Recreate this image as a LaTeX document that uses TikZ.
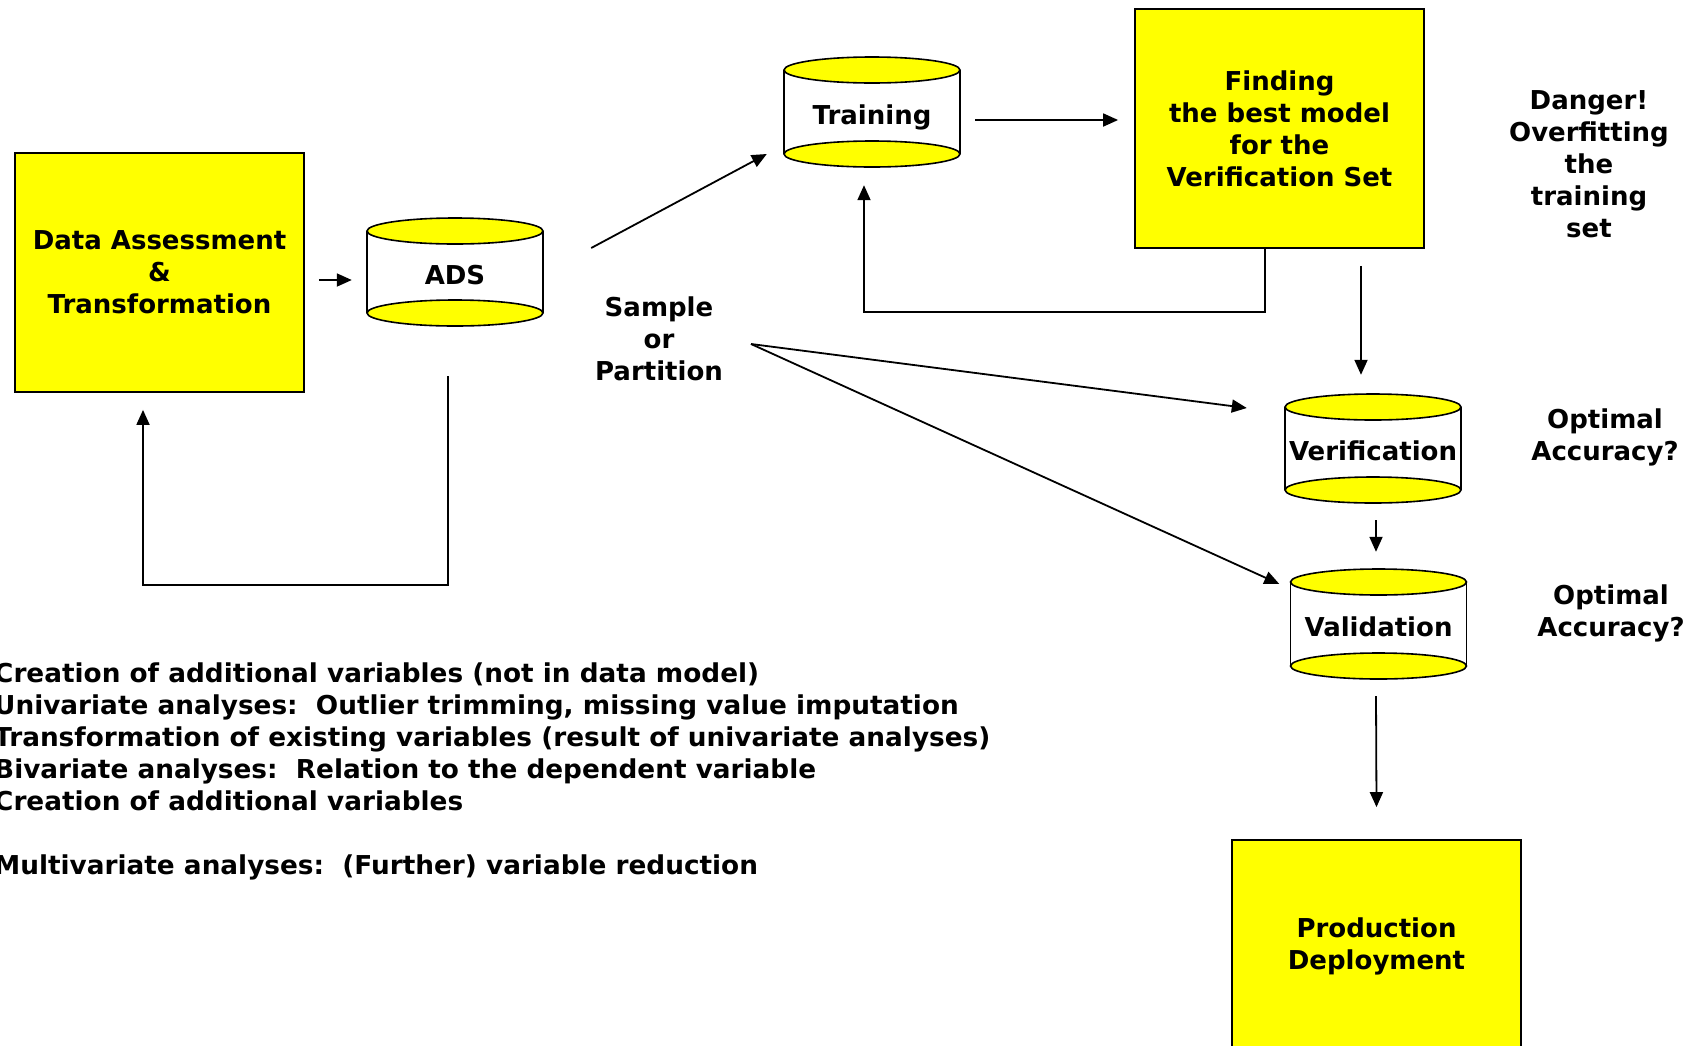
\documentclass[tikz,border=0pt]{standalone}
\usepackage{fontspec}
\setmainfont{DejaVu Sans}
\usetikzlibrary{arrows.meta,calc}

\definecolor{boxyellow}{RGB}{255,255,0}

\tikzset{
  lbl/.style={font=\fontsize{26}{32}\selectfont\bfseries, align=center, inner sep=0pt},
  yellowbox/.style={lbl, draw=black, line width=1.8pt, fill=boxyellow,
                    minimum width=289pt, minimum height=239pt},
  link/.style={line width=1.8pt},
  arr/.style={link, -{Triangle[length=15pt,width=13pt]}},
  drumline/.style={draw=black, line width=1.6pt},
}

% data store drawn as a drum: name, centre x, top rim y, bottom rim y, label
\newcommand\datadrum[5]{%
  \fill[white] (#2-88,#3) rectangle (#2+88,#4);
  \draw[drumline] (#2-88,#3) -- (#2-88,#4) (#2+88,#3) -- (#2+88,#4);
  \draw[drumline, fill=boxyellow] (#2,#4) ellipse [x radius=88, y radius=13];
  \draw[drumline, fill=boxyellow] (#2,#3) ellipse [x radius=88, y radius=13];
  \node[lbl, text height=24pt, text depth=0pt, minimum width=176pt,
        minimum height={#4-#3+26}] (#1) at (#2,{(#3+#4)/2}) {#5};
}

\begin{document}
\begin{tikzpicture}[x=1pt,y=-1pt]
\useasboundingbox (0,0) rectangle (1700,1045);

% boxes and data stores
\node[yellowbox] (da) at (159.5,272.5) {Data Assessment\\\&\\Transformation};
\datadrum{ads}{455}{231}{313}{ADS}
\datadrum{training}{872}{70}{154}{Training}
\node[yellowbox] (finding) at (1279.5,128.5) {Finding\\the best model\\for the\\Verification Set};
\datadrum{verification}{1373}{407}{490}{Verification}
\datadrum{validation}{1378.5}{582}{666}{Validation}
\node[yellowbox, minimum height=212pt] (prod) at (1376.5,946) {Production\\Deployment};

% free labels
\node[lbl] (sample) at (659,339) {Sample\\or\\Partition};
\node[lbl] (danger) at (1589,164) {Danger!\\Overfitting\\the\\training\\set};
\node[lbl] (acc1) at (1605,437) {Optimal\\Accuracy?};
\node[lbl] (acc2) at (1611,613) {Optimal\\Accuracy?};
\node[lbl, align=left, anchor=north west, xscale=1.012] (notes) at (-6,663)
  {Creation of additional variables (not in data model)\\
   Univariate analyses:\ \ Outlier trimming, missing value imputation\\
   Transformation of existing variables (result of univariate analyses)\\
   Bivariate analyses:\ \ Relation to the dependent variable\\
   Creation of additional variables\\[32pt]
   Multivariate analyses:\ \ (Further) variable reduction};

\coordinate (fork) at (751,344);

% connectors
\draw[arr] ($(da.east)+(14,7.5)$) -- ($(ads.west)+(-15,8)$);
\draw[arr] ($(ads.south)+(-7,50)$) |- ($(da.south)+(-16.5,192)$) -- ($(da.south)+(-16.5,17)$);
\draw[arr] ($(ads.east)+(48,-24)$) -- ($(training.west)+(-17,42)$);
\draw[arr] ($(training.east)+(15,8)$) -- ($(finding.west)+(-16,-8.5)$);
\draw[arr] ($(finding.south)+(-14.5,0)$) |- ($(training.south)+(-8,145)$) -- ($(training.south)+(-8,18)$);
\draw[arr] ($(finding.south)+(81.5,17)$) -- ($(verification.north)+(-12,-19)$);
\draw[arr] (fork) -- ($(verification.west)+(-38,-40.5)$);
\draw[arr] (fork) -- ($(validation.west)+(-11,-40)$);
\draw[arr] ($(verification.south)+(3,17)$) -- ($(validation.north)+(-2.5,-17)$);
\draw[arr] ($(validation.south)+(-2.5,17)$) -- ($(prod.north)+(0,-32)$);
\end{tikzpicture}
\end{document}
